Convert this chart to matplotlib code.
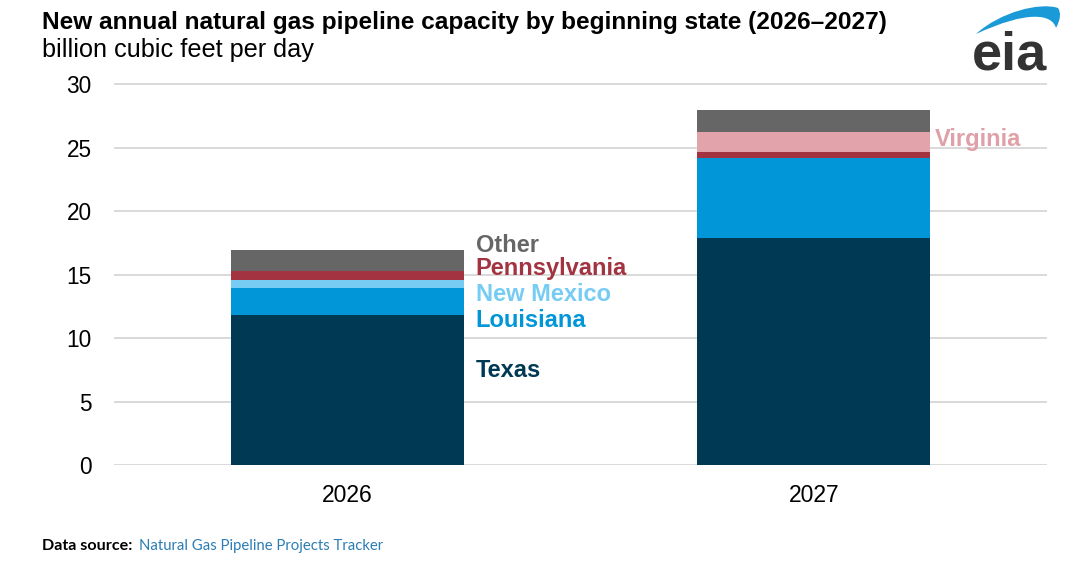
import matplotlib
matplotlib.use("Agg")
import matplotlib.pyplot as plt
from matplotlib.path import Path
from matplotlib.patches import PathPatch
import numpy as np

plt.rcParams['font.family'] = ['Liberation Sans', 'DejaVu Sans']

# ---- data (billion cubic feet per day) ----
years = ["2026", "2027"]
states = ["Texas", "Louisiana", "New Mexico", "Pennsylvania", "Virginia", "Other"]
texas = [11.8, 17.85]
louisiana = [2.1, 6.3]
new_mexico = [0.65, 0.0]
pennsylvania = [0.75, 0.5]
virginia = [0.0, 1.6]
other = [1.6, 1.7]
series = [texas, louisiana, new_mexico, pennsylvania, virginia, other]
colors = ["#003953", "#0096D7", "#77CCF4", "#A33340", "#E3A3AA", "#666666"]
text_colors = ["#003953", "#0096D7", "#77CCF4", "#A33340", "#E0A0A8", "#666666"]

# label layout: (state index, bar index, y position in data units)
label_layout = [(5, 0, 17.3), (3, 0, 15.5), (2, 0, 13.45), (1, 0, 11.4), (0, 0, 7.45), (4, 1, 25.65)]

W, H = 1080, 561
fig = plt.figure(figsize=(W / 100, H / 100), dpi=100)
ax = fig.add_axes([114 / W, 1 - 465 / H, (1047 - 114) / W, (465 - 81.5) / H])

x = np.arange(len(years))
bottom = np.zeros(len(years))
bar_w = 0.5
for vals, c in zip(series, colors):
    ax.bar(x, vals, bottom=bottom, width=bar_w, color=c, zorder=3, linewidth=0)
    bottom += np.array(vals)

ax.set_xlim(-0.5, 1.5)
ax.set_ylim(0, 30.2)
ax.set_yticks([0, 5, 10, 15, 20, 25, 30])
ax.set_xticks(x)
ax.set_xticklabels(years)
ax.tick_params(axis='y', length=0, pad=16, labelsize=16.3, labelcolor='black')
ax.tick_params(axis='x', length=0, pad=14, labelsize=16.5, labelcolor='black')
ax.grid(axis='y', color='#D9D9D9', linewidth=1.4, zorder=0)
for s in ax.spines.values():
    s.set_visible(False)

offsets = [0.025, 0.01]
for si, bi, ypos in label_layout:
    ax.text(x[bi] + bar_w / 2 + offsets[bi], ypos, states[si], color=text_colors[si],
            fontsize=17, fontweight='bold', va='center', ha='left', zorder=4)

# titles
fig.text(42 / W, 1 - 22.5 / H, "New annual natural gas pipeline capacity by beginning state (2026\u20132027)",
         fontsize=17.55, fontweight='bold', ha='left', va='center', color='black')
fig.text(42 / W, 1 - 50 / H, "billion cubic feet per day", fontsize=18.2, ha='left', va='center', color='black')

# data source
fig.text(42 / W, 1 - 546 / H, "Data source:", fontsize=11.6, fontweight='bold', ha='left', va='center',
         color='black', family=['Lato', 'DejaVu Sans'])
fig.text(139 / W, 1 - 546 / H, "Natural Gas Pipeline Projects Tracker", fontsize=10.7, ha='left', va='center',
         color='#2A7DB5', family=['Lato', 'DejaVu Sans'])

# eia logo
fig.text(1010 / W, 1 - 55 / H, "eia", fontsize=39, fontweight='bold', ha='center', va='center', color='#333333')
def fp(px, py):
    return (px / W, 1 - py / H)
verts = [fp(976, 34), fp(1000, 12), fp(1040, 2), fp(1058, 8),
         fp(1063, 15), fp(1056, 28),
         fp(1052, 14), fp(1028, 10), fp(976, 34), fp(976, 34)]
codes = [Path.MOVETO, Path.CURVE4, Path.CURVE4, Path.CURVE4,
         Path.CURVE3, Path.CURVE3,
         Path.CURVE4, Path.CURVE4, Path.CURVE4, Path.CLOSEPOLY]
fig.patches.append(PathPatch(Path(verts, codes), transform=fig.transFigure, facecolor='#1A9AD6',
                             edgecolor='none'))

fig.savefig("out.png", dpi=100)
